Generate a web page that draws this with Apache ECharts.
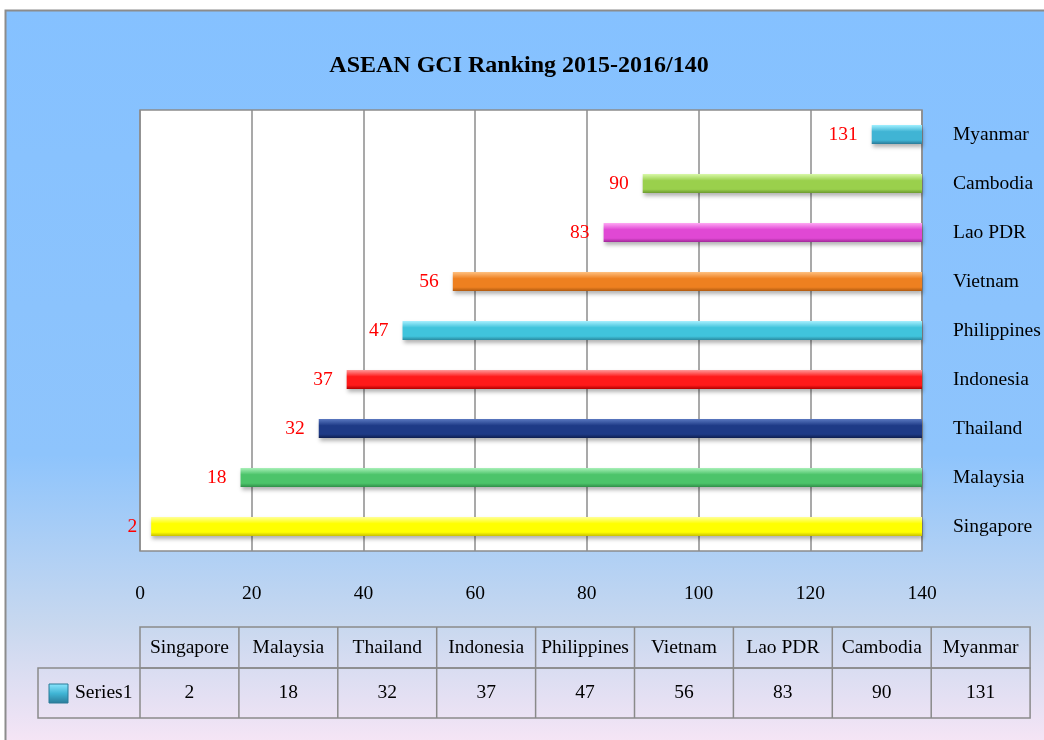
<!DOCTYPE html>
<html>
<head>
<meta charset="utf-8">
<title>ASEAN GCI Ranking</title>
<script src="https://cdn.jsdelivr.net/npm/echarts@6/dist/echarts.min.js"></script>
<style>
  html, body { margin: 0; padding: 0; background: #fff; }
  #chart { width: 1044px; height: 740px; }
</style>
</head>
<body>
<div id="chart"></div>
<script>
// data
const countries = ['Singapore', 'Malaysia', 'Thailand', 'Indonesia', 'Philippines', 'Vietnam', 'Lao PDR', 'Cambodia', 'Myanmar'];
const ranks = [2, 18, 32, 37, 47, 56, 83, 90, 131];
const totalRanked = 140;
const seriesName = 'Series1';

// bar colours: [light, main, dark]
const barColors = [
  ['#ffff9a', '#ffff00', '#c8c000'],
  ['#a8f0b8', '#4cc46a', '#2f8f48'],
  ['#5a78c0', '#1e3a86', '#0f1f50'],
  ['#ff9a9a', '#ff1a1a', '#b00000'],
  ['#a8f0ff', '#40c4dc', '#2a8aa0'],
  ['#ffc080', '#ee8020', '#b05a10'],
  ['#ffa8f4', '#e048d4', '#a02898'],
  ['#d8f8a8', '#9ad04c', '#6c9a30'],
  ['#a0f0ff', '#40b4d4', '#2a7a98']
];

const font = '"Liberation Serif", "Times New Roman", serif';
const fs = 19.5;
const chart = echarts.init(document.getElementById('chart'));

// bars run from the rank out to the right edge (140)
const spanData = ranks.map((v, i) => ({
  value: totalRanked - v,
  itemStyle: {
    color: new echarts.graphic.LinearGradient(0, 0, 0, 1, [
      { offset: 0, color: barColors[i][0] },
      { offset: 0.35, color: barColors[i][1] },
      { offset: 0.8, color: barColors[i][1] },
      { offset: 1, color: barColors[i][2] }
    ])
  }
}));

// data table below the chart
const tblLeft = 140, colW = 98.9, headTop = 627, headH = 41, rowH = 50, firstColLeft = 38;
const tblRight = tblLeft + colW * countries.length;
const lineStyle = { stroke: '#8a8a8a', lineWidth: 1.5 };
const tableEls = [];
tableEls.push({ type: 'rect', shape: { x: tblLeft, y: headTop, width: tblRight - tblLeft, height: headH }, style: { fill: 'none', ...lineStyle } });
tableEls.push({ type: 'rect', shape: { x: firstColLeft, y: headTop + headH, width: tblRight - firstColLeft, height: rowH }, style: { fill: 'none', ...lineStyle } });
for (let i = 1; i < countries.length; i++) {
  const x = tblLeft + colW * i;
  tableEls.push({ type: 'line', shape: { x1: x, y1: headTop, x2: x, y2: headTop + headH + rowH }, style: lineStyle });
}
tableEls.push({ type: 'line', shape: { x1: tblLeft, y1: headTop + headH, x2: tblLeft, y2: headTop + headH + rowH }, style: lineStyle });
countries.forEach((c, i) => {
  const cx = tblLeft + colW * i + colW / 2;
  tableEls.push({ type: 'text', style: { x: cx, y: headTop + headH / 2, text: c, align: 'center', verticalAlign: 'middle', font: fs + 'px ' + font, fill: '#000' } });
  tableEls.push({ type: 'text', style: { x: cx, y: headTop + headH + rowH / 2, text: String(ranks[i]), align: 'center', verticalAlign: 'middle', font: fs + 'px ' + font, fill: '#000' } });
});
tableEls.push({
  type: 'rect', shape: { x: 49, y: 684, width: 19, height: 19 },
  style: {
    fill: new echarts.graphic.LinearGradient(0, 0, 0, 1, [
      { offset: 0, color: '#8ee8ff' }, { offset: 0.5, color: '#40b4d4' }, { offset: 1, color: '#2a7a98' }
    ]),
    stroke: '#2a7a98', lineWidth: 1
  }
});
tableEls.push({ type: 'text', style: { x: 75, y: headTop + headH + rowH / 2, text: seriesName, align: 'left', verticalAlign: 'middle', font: fs + 'px ' + font, fill: '#000' } });

const option = {
  animation: false,
  graphic: [
    {
      type: 'rect', z: -10, silent: true,
      shape: { x: 5.5, y: 10.5, width: 1050, height: 740 },
      style: {
        fill: new echarts.graphic.LinearGradient(0, 0, 0, 1, [
          { offset: 0, color: '#85c1ff' },
          { offset: 0.6, color: '#8ec4fc' },
          { offset: 0.83, color: '#c8d8ef' },
          { offset: 1, color: '#f9e6f6' }
        ]),
        stroke: '#8c8c8c', lineWidth: 2
      }
    },
    ...tableEls
  ],
  title: {
    text: 'ASEAN GCI Ranking 2015-2016/140',
    left: 514, top: 49, textAlign: 'center',
    textStyle: { fontFamily: font, fontSize: 24, fontWeight: 'bold', color: '#000' }
  },
  grid: {
    left: 140, right: 122, top: 110, bottom: 189,
    show: true, backgroundColor: '#fff', borderColor: '#8c8c8c', borderWidth: 1.5
  },
  xAxis: {
    type: 'value', min: 0, max: totalRanked, interval: 20,
    axisLine: { show: false }, axisTick: { show: false },
    splitLine: { lineStyle: { color: '#8c8c8c', width: 1.5 } },
    axisLabel: { margin: 33, fontFamily: font, fontSize: fs, color: '#000' }
  },
  yAxis: {
    type: 'category', data: countries, position: 'right',
    axisLine: { show: false }, axisTick: { show: false },
    axisLabel: { margin: 31, fontFamily: font, fontSize: fs, color: '#000' }
  },
  series: [
    {
      name: 'offset', type: 'bar', stack: 'rank', barWidth: 19,
      data: ranks, itemStyle: { color: 'transparent' }, silent: true
    },
    {
      name: seriesName, type: 'bar', stack: 'rank', barWidth: 19,
      data: spanData,
      itemStyle: { shadowBlur: 4, shadowOffsetY: 3, shadowOffsetX: 1, shadowColor: 'rgba(0,0,0,0.3)' },
      label: {
        show: true, position: 'left', distance: 14,
        formatter: p => ranks[p.dataIndex],
        fontFamily: font, fontSize: fs, color: '#ff0000'
      }
    }
  ]
};
chart.setOption(option);
</script>
</body>
</html>
